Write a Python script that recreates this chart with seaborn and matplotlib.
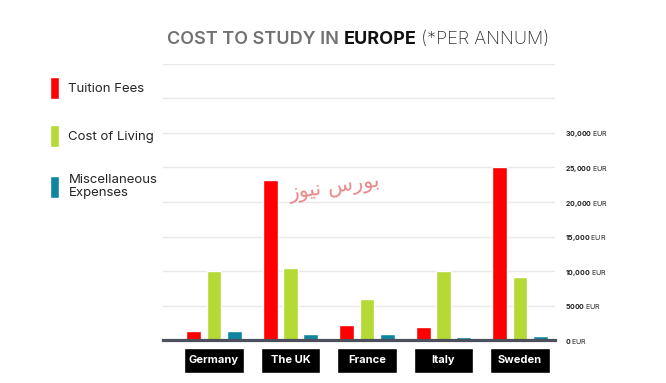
import pandas as pd
import seaborn as sns
import matplotlib.pyplot as plt
from matplotlib.patches import Rectangle
from matplotlib.transforms import blended_transform_factory

# values (EUR per year)
countries = ["Germany", "The UK", "France", "Italy", "Sweden"]
tuition = [1350, 23200, 2300, 1950, 25000]
living = [10000, 10500, 6000, 10000, 9200]
misc = [1350, 900, 900, 450, 700]
cost_types = ["Tuition Fees", "Cost of Living", "Miscellaneous\nExpenses"]
colors = ["#ff0000", "#b5d935", "#0f86a0"]
ytick_vals = [0, 5000, 10000, 15000, 20000, 25000, 30000, 35000, 40000]
ytick_nums = ["0", "5000", "10{,}000", "15{,}000", "20{,}000", "25{,}000", "30{,}000", "", ""]

df = pd.DataFrame({"Country": countries, cost_types[0]: tuition,
                   cost_types[1]: living, cost_types[2]: misc})
df = df.melt(id_vars="Country", var_name="Type", value_name="EUR")

sns.set_style("white")
plt.rcParams['font.family'] = ['Inter', 'DejaVu Sans']
plt.rcParams['mathtext.fontset'] = 'custom'
plt.rcParams['mathtext.bf'] = 'Inter:bold'
plt.rcParams['mathtext.rm'] = 'Inter'

fig = plt.figure(figsize=(6.66, 3.83), dpi=100)
ax = fig.add_axes([0.2447, 0.111, 0.5886, 0.7227])

sns.barplot(data=df, x="Country", y="EUR", hue="Type", palette=colors,
            saturation=1, errorbar=None, gap=0.27, ax=ax)

ax.set_xlim(-0.667, 4.457)
ax.set_ylim(0, 40000)
ax.set_yticks(ytick_vals)
ax.set_yticklabels([r"$\mathbf{%s}$ EUR" % n if n else "" for n in ytick_nums],
                   fontsize=5, color="#222222")
ax.yaxis.tick_right()
ax.tick_params(axis="y", length=0, pad=7)
ax.tick_params(axis="x", length=0, labelbottom=False)
ax.grid(axis="y", color="#e9e9e9", linewidth=1)
ax.set_axisbelow(True)
ax.set_xlabel("")
ax.set_ylabel("")
for s in ["top", "left", "right"]:
    ax.spines[s].set_visible(False)
ax.spines["bottom"].set_color("#4b505c")
ax.spines["bottom"].set_linewidth(2.3)

# black country boxes under the axis
tr = blended_transform_factory(ax.transData, ax.transAxes)
for i, c in enumerate(countries):
    ax.add_patch(Rectangle((i - 0.39, -0.117), 0.78, 0.09, transform=tr,
                           facecolor="black", clip_on=False))
    ax.text(i, -0.072, c, transform=tr, ha="center", va="center",
            color="white", fontsize=8, fontweight="bold")

sns.move_legend(ax, "upper left", bbox_to_anchor=(0.075, 0.80),
                bbox_transform=fig.transFigure, frameon=False, title=None,
                handlelength=0.65, handleheight=2.2, handletextpad=0.75,
                labelspacing=2.0, fontsize=9.5, borderpad=0, borderaxespad=0)

# title in three pieces
t1 = fig.text(0.251, 0.875, "COST TO STUDY IN ", fontsize=13, fontweight="semibold",
              color="#717171", va="bottom")
t2 = ax.annotate("EUROPE", xy=(1, 0), xycoords=t1, fontsize=13, fontweight="bold",
                 color="#111111", va="bottom")
ax.annotate(" (*PER ANNUM)", xy=(1, 0), xycoords=t2, fontsize=13, fontweight="light",
            color="#333333", va="bottom")

# watermark (Persian, presentation forms in visual order)
fig.text(0.503, 0.51, "\ufeaf\ufeee\ufbff\ufee7 \ufeb1\ufead\ufeee\ufe91",
         family="DejaVu Sans", fontsize=15, color="#e57575", alpha=0.85,
         ha="center", va="center", rotation=8)

fig.savefig("out.png", dpi=100)
